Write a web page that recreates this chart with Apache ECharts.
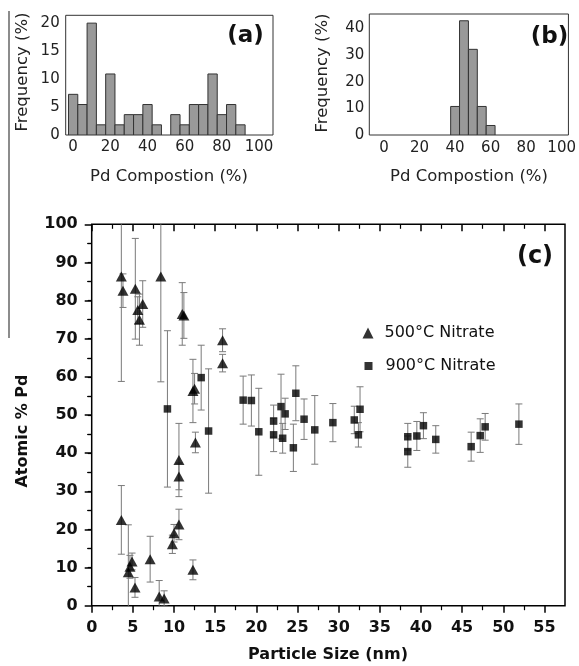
<!DOCTYPE html>
<html>
<head>
<meta charset="utf-8">
<script src="https://cdn.jsdelivr.net/npm/echarts@6/dist/echarts.min.js"></script>
<style>
html,body{margin:0;padding:0;background:#fff;}
#chart{width:579px;height:666px;}
</style>
</head>
<body>
<div id="chart"></div>
<script>
// ---------- data ----------
// Histogram (a): bin centres (Pd %) and frequencies (%)
var histA_bins = [0,5,10,15,20,25,30,35,40,45,50,55,60,65,70,75,80,85,90,95,100];
var histA_freq = [7.27,5.45,20,1.82,10.91,1.82,3.64,3.64,5.45,1.82,0,3.64,1.82,5.45,5.45,10.91,3.64,5.45,1.82,0,0];
// Histogram (b)
var histB_bins = [0,5,10,15,20,25,30,35,40,45,50,55,60,65,70,75,80,85,90,95];
var histB_freq = [0,0,0,0,0,0,0,0,10.71,42.86,32.14,10.71,3.57,0,0,0,0,0,0,0];

// Panel (c): 500°C Nitrate (triangles)
var triX   = [3.6,3.8,5.3,5.6,5.8,6.2,8.4,11.0,11.2,12.3,12.5,15.9,15.9,12.6,10.6,10.6,3.6,4.45,4.65,4.9,5.26,7.1,8.2,8.8,9.8,10.0,10.6,12.3];
var triY   = [86.3,82.6,83.1,77.5,75.0,79.1,86.3,76.5,76.1,56.3,56.9,69.6,63.6,42.8,38.2,33.9,22.5,8.8,10.2,11.6,4.8,12.2,2.4,1.9,16.1,19.0,21.3,9.4];
var triErr = [27.5,4.4,13.2,3.5,6.7,6.1,27.6,8.2,6.0,8.3,4.0,3.0,2.3,2.7,9.6,3.5,9.0,12.4,3.0,2.2,2.6,6.0,4.2,2.0,2.4,2.3,4.0,2.6];
// Panel (c): 900°C Nitrate (squares)
var sqX   = [9.2,13.3,14.2,18.4,19.4,20.3,22.1,22.1,23.0,23.5,23.2,24.5,24.8,25.8,27.1,29.3,31.9,32.6,32.4,38.4,38.4,39.5,40.3,41.8,46.1,47.2,47.8,51.9];
var sqY   = [51.6,59.8,45.8,53.9,53.8,45.6,48.4,44.8,52.2,50.3,43.9,41.4,55.7,48.9,46.1,48.0,48.7,51.5,44.8,44.3,40.4,44.5,47.2,43.6,41.7,44.6,46.9,47.6];
var sqErr = [20.5,8.5,16.3,6.3,6.7,11.4,4.2,4.4,8.5,4.1,3.9,6.2,7.2,5.3,9.0,5.0,3.6,5.9,3.2,3.5,4.1,3.8,3.4,3.6,3.8,4.4,3.5,5.3];

// tick values
var histA_xTicks = [0,20,40,60,80,100];
var histA_yTicks = [0,5,10,15,20];
var histB_xTicks = [0,20,40,60,80,100];
var histB_yTicks = [0,10,20,30,40];
var c_xMajor = [0,5,10,15,20,25,30,35,40,45,50,55];
var c_xMinor = [2.5,7.5,12.5,17.5,22.5,27.5,32.5,37.5,42.5,47.5,52.5];
var c_yRight = [5,10,15,20,25,30,35,40,45,50,55,60,65,70,75,80,85,90,95];

// ---------- helpers ----------
function zip(a,b,c){ return a.map(function(v,i){ return c ? [v,b[i],c[i]] : [v,b[i]]; }); }
var FONT = '"DejaVu Sans", Verdana, sans-serif';

function histRender(params, api){
  var x = api.value(0), y = api.value(1);
  if (!y) return null;
  var p1 = api.coord([x-2.5, y]);
  var p2 = api.coord([x+2.5, 0]);
  return {
    type:'rect',
    shape:{x:p1[0], y:p1[1], width:p2[0]-p1[0], height:p2[1]-p1[1]},
    style:{fill:'#999999', stroke:'#333', lineWidth:1}
  };
}
function errRender(params, api){
  var x = api.value(0), y = api.value(1), e = api.value(2);
  var hi = api.coord([x, y+e]), lo = api.coord([x, y-e]);
  var w = 3.5, st = {stroke:'#7a7a7a', lineWidth:1};
  return {type:'group', children:[
    {type:'line', shape:{x1:hi[0],y1:hi[1],x2:lo[0],y2:lo[1]}, style:st},
    {type:'line', shape:{x1:hi[0]-w,y1:hi[1],x2:hi[0]+w,y2:hi[1]}, style:st},
    {type:'line', shape:{x1:lo[0]-w,y1:lo[1],x2:lo[0]+w,y2:lo[1]}, style:st}
  ]};
}

var smallLbl = {fontFamily:FONT, fontSize:15, color:'#222'};
var bigLbl = {fontFamily:FONT, fontSize:16, fontWeight:'bold', color:'#111'};

var chart = echarts.init(document.getElementById('chart'), null, {renderer:'canvas'});
var option = {
  animation:false,
  backgroundColor:'#fff',
  grid:[
    {left:65.7, top:15.3, right:306, bottom:531, show:true, borderColor:'#333', borderWidth:1, backgroundColor:'transparent'},
    {left:369.3, top:14, right:9.7, bottom:531, show:true, borderColor:'#333', borderWidth:1, backgroundColor:'transparent'},
    {left:91.7, top:224.3, right:14, bottom:60.3, show:true, borderColor:'#000', borderWidth:1.5, backgroundColor:'transparent'}
  ],
  xAxis:[
    {gridIndex:0, type:'value', min:-4, max:107.5, axisLine:{show:false}, axisTick:{show:false}, splitLine:{show:false},
     axisLabel:Object.assign({customValues:histA_xTicks, margin:5}, smallLbl)},
    {gridIndex:1, type:'value', min:-8.3, max:103.8, axisLine:{show:false}, axisTick:{show:false}, splitLine:{show:false},
     axisLabel:Object.assign({customValues:histB_xTicks, margin:6}, smallLbl)},
    {gridIndex:2, type:'value', min:0, max:57.5, position:'bottom', axisLine:{show:false}, splitLine:{show:false},
     axisTick:{show:true, customValues:c_xMajor, length:7, inside:false, lineStyle:{color:'#000', width:1.5}},
     axisLabel:Object.assign({customValues:c_xMajor, margin:14}, bigLbl)},
    {gridIndex:2, type:'value', min:0, max:57.5, position:'bottom', axisLine:{show:false}, splitLine:{show:false},
     axisTick:{show:true, customValues:c_xMinor, length:4.5, inside:false, lineStyle:{color:'#000', width:1.2}},
     axisLabel:{show:false}},
    {gridIndex:2, type:'value', min:0, max:57.5, position:'top', axisLine:{show:false}, splitLine:{show:false},
     axisTick:{show:true, customValues:c_xMajor, length:7, inside:true, lineStyle:{color:'#000', width:1.5}},
     axisLabel:{show:false}},
    {gridIndex:2, type:'value', min:0, max:57.5, position:'top', axisLine:{show:false}, splitLine:{show:false},
     axisTick:{show:true, customValues:c_xMinor, length:4.5, inside:true, lineStyle:{color:'#000', width:1.2}},
     axisLabel:{show:false}}
  ],
  yAxis:[
    {gridIndex:0, type:'value', min:0, max:21.4, axisLine:{show:false}, axisTick:{show:false}, splitLine:{show:false},
     axisLabel:Object.assign({customValues:histA_yTicks, margin:6}, smallLbl)},
    {gridIndex:1, type:'value', min:0, max:45.4, axisLine:{show:false}, axisTick:{show:false}, splitLine:{show:false},
     axisLabel:Object.assign({customValues:histB_yTicks, margin:5}, smallLbl)},
    {gridIndex:2, type:'value', min:0, max:100, interval:10, position:'left', axisLine:{show:false}, splitLine:{show:false},
     axisTick:{show:true, length:7, inside:false, lineStyle:{color:'#000', width:1.5}},
     minorTick:{show:true, splitNumber:2, length:4.5, lineStyle:{color:'#000', width:1.2}},
     axisLabel:Object.assign({margin:14}, bigLbl)},
    {gridIndex:2, type:'value', min:0, max:100, position:'right', axisLine:{show:false}, splitLine:{show:false},
     axisTick:{show:true, customValues:c_yRight, length:4, inside:true, lineStyle:{color:'#000', width:1.2}},
     axisLabel:{show:false}}
  ],
  legend:[
    {data:[{name:'500°C Nitrate', icon:'triangle'}], left:362.5, top:324, orient:'vertical',
     itemWidth:11, itemHeight:11, padding:0, selectedMode:false,
     textStyle:{fontFamily:FONT, fontSize:16, color:'#111', padding:[0,0,0,6], lineHeight:18}},
    {data:[{name:'900°C Nitrate', icon:'rect'}], left:364.5, top:357, orient:'vertical',
     itemWidth:8, itemHeight:8, padding:0, selectedMode:false,
     textStyle:{fontFamily:FONT, fontSize:16, color:'#111', padding:[0,0,0,8], lineHeight:18}}
  ],
  series:[
    {type:'custom', name:'histA', xAxisIndex:0, yAxisIndex:0, renderItem:histRender, data:zip(histA_bins, histA_freq), clip:true},
    {type:'custom', name:'histB', xAxisIndex:1, yAxisIndex:1, renderItem:histRender, data:zip(histB_bins, histB_freq), clip:true},
    {type:'custom', name:'errTri', xAxisIndex:2, yAxisIndex:2, renderItem:errRender, data:zip(triX, triY, triErr), clip:true, z:1},
    {type:'custom', name:'errSq', xAxisIndex:2, yAxisIndex:2, renderItem:errRender, data:zip(sqX, sqY, sqErr), clip:true, z:1},
    {type:'scatter', name:'500°C Nitrate', xAxisIndex:2, yAxisIndex:2, symbol:'triangle', symbolSize:[11,10],
     itemStyle:{color:'#000'}, data:zip(triX, triY), z:3},
    {type:'scatter', name:'900°C Nitrate', xAxisIndex:2, yAxisIndex:2, symbol:'rect', symbolSize:7.5,
     itemStyle:{color:'#000'}, data:zip(sqX, sqY), z:3}
  ],
  graphic:[
    {type:'line', shape:{x1:9, y1:11, x2:9, y2:338}, style:{stroke:'#666', lineWidth:1.5}},
    {type:'text', x:22.5, y:72, rotation:Math.PI/2, style:{text:'Frequency (%)', font:'16.5px ' + FONT, fill:'#222', align:'center', verticalAlign:'middle'}},
    {type:'text', x:322.5, y:73, rotation:Math.PI/2, style:{text:'Frequency (%)', font:'16.5px ' + FONT, fill:'#222', align:'center', verticalAlign:'middle'}},
    {type:'text', x:169, y:177, style:{text:'Pd Compostion (%)', font:'16.5px ' + FONT, fill:'#222', align:'center', verticalAlign:'middle'}},
    {type:'text', x:469, y:177, style:{text:'Pd Compostion (%)', font:'16.5px ' + FONT, fill:'#222', align:'center', verticalAlign:'middle'}},
    {type:'text', x:245.5, y:36, style:{text:'(a)', font:'bold 23px ' + FONT, fill:'#111', align:'center', verticalAlign:'middle'}},
    {type:'text', x:549.5, y:37, style:{text:'(b)', font:'bold 23px ' + FONT, fill:'#111', align:'center', verticalAlign:'middle'}},
    {type:'text', x:535, y:257, style:{text:'(c)', font:'bold 24px ' + FONT, fill:'#111', align:'center', verticalAlign:'middle'}},
    {type:'text', x:23, y:431, rotation:Math.PI/2, style:{text:'Atomic % Pd', font:'bold 16px ' + FONT, fill:'#111', align:'center', verticalAlign:'middle'}},
    {type:'text', x:328, y:655, style:{text:'Particle Size (nm)', font:'bold 16px ' + FONT, fill:'#111', align:'center', verticalAlign:'middle'}}
  ]
};
chart.setOption(option);
</script>
</body>
</html>
